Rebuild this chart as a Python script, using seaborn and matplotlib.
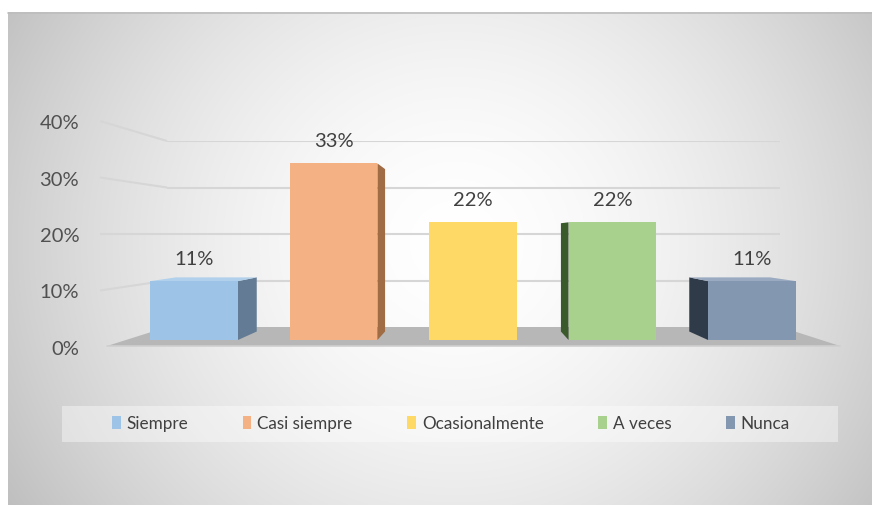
import numpy as np
import matplotlib
matplotlib.use("Agg")
import matplotlib.pyplot as plt
from matplotlib.patches import Polygon, Rectangle
import seaborn as sns

# ---- data ----
categories = ["Siempre", "Casi siempre", "Ocasionalmente", "A veces", "Nunca"]
values = [0.11, 0.33, 0.22, 0.22, 0.11]
tick_values = [0.0, 0.1, 0.2, 0.3, 0.4]
tick_labels = ["0%", "10%", "20%", "30%", "40%"]

# ---- styling ----
front_colors = ["#9dc3e6", "#f4b183", "#ffd966", "#a9d18e", "#8497b0"]
side_colors = ["#637b94", "#a06c45", "#c9a640", "#3a5a2b", "#303b4a"]
top_colors = ["#b0d0ec", "#f7c3a0", "#ffe38c", "#bfdea8", "#9aaac0"]

sns.set_theme(style="white")
plt.rcParams["font.family"] = ["Lato", "DejaVu Sans"]

W, H = 872, 506
fig = plt.figure(figsize=(W / 100, H / 100), dpi=100)
fig.patch.set_facecolor("white")


def frac(x0, y_top, w, h):
    """Axes rectangle from pixel box (origin top-left)."""
    return [x0 / W, (H - y_top - h) / H, w / W, h / H]


# ---- backdrop in pixel space ----
bg = fig.add_axes([0, 0, 1, 1], zorder=0)
fx0, fy0 = 8, 13
xs = np.arange(fx0, W) + 0.5
ys = np.arange(fy0, H) + 0.5
X, Y = np.meshgrid(xs, ys)
r = np.sqrt(((X - 455) / 432) ** 2 + ((Y - 245) / 410) ** 2)
shade = np.clip(255 - 46 * r ** 1.7, 190, 255) / 255
bg.imshow(np.dstack([shade] * 3), extent=(fx0, W, H, fy0),
          interpolation="bilinear", aspect="auto", zorder=0)
bg.plot([fx0, W], [fy0 + 0.5, fy0 + 0.5], color="#bdbdbd", lw=1.2, zorder=1)
bg.set_xlim(0, W)
bg.set_ylim(H, 0)
bg.axis("off")

# floor of the 3-D box
bg.add_patch(Polygon([(107, 347), (840, 347), (781, 328), (167, 328)],
                     closed=True, facecolor="#b7b7b7", edgecolor="none", zorder=2))
bg.plot([107, 840], [347, 347], color="#cfcfcf", lw=1.2, zorder=2)

# legend strip
bg.add_patch(Rectangle((62, 407), 776, 36, facecolor="white", alpha=0.4,
                       edgecolor="none", zorder=2))

# ---- back wall with gridlines ----
ax_wall = fig.add_axes(frac(167, 142, 613, 186), zorder=1)
ax_wall.patch.set_alpha(0)
ax_wall.set_ylim(0, 0.4)
ax_wall.set_xlim(0, 1)
ax_wall.set_yticks(tick_values[1:])
ax_wall.set_xticks([])
ax_wall.tick_params(left=False, labelleft=False)
ax_wall.grid(axis="y", color="#d6d6d6", lw=1.5)
sns.despine(ax=ax_wall, left=True, bottom=True)

# ---- value axis (labels on the side wall) ----
ax_val = fig.add_axes(frac(100, 122, 67, 226), zorder=1)
ax_val.patch.set_alpha(0)
ax_val.set_ylim(0, 0.4)
ax_val.set_yticks(tick_values)
ax_val.set_yticklabels(tick_labels)
ax_val.set_xticks([])
ax_val.tick_params(axis="y", length=0, pad=15, labelsize=14.5, labelcolor="#505050")
sns.despine(ax=ax_val, left=True, bottom=True)

inv_bg = bg.transData.inverted()


def to_px(ax, x, y):
    return inv_bg.transform(ax.transData.transform((x, y)))


# side-wall gridline segments joining each label to the back wall
for v in tick_values[1:]:
    _, yl = to_px(ax_val, 0, v)
    _, yb = to_px(ax_wall, 0, v)
    bg.plot([100, 167], [yl, yb], color="#d6d6d6", lw=1.5, zorder=1,
            solid_capstyle="butt")

# ---- bars ----
ax = fig.add_axes(frac(124.25, 127, 697.5, 214), zorder=2)
ax.patch.set_alpha(0)
sns.barplot(x=categories, y=values, hue=categories, palette=front_colors,
            saturation=1, width=0.63, linewidth=0, ax=ax, legend=True)
ax.set_xlim(-0.5, 4.5)
ax.set_ylim(0, 0.4)
ax.set_axis_off()

# perspective faces: back face is the front face shrunk toward a vanishing point
vpx, vpy, s = 473.0, 235.0, 0.92
inv_ax = ax.transData.inverted()
for bar in ax.patches:
    i = int(round(bar.get_x() + bar.get_width() / 2))
    x0, y0 = bar.get_x(), bar.get_y()
    x1, y1 = x0 + bar.get_width(), y0 + bar.get_height()
    (L, B) = to_px(ax, x0, y0)
    (R, T) = to_px(ax, x1, y1)

    def back(px, py):
        return vpx + s * (px - vpx), vpy + s * (py - vpy)

    def data(pts):
        return [inv_ax.transform(bg.transData.transform(p)) for p in pts]

    cxp = (L + R) / 2
    if cxp < vpx - 5:
        face = [(R, T), (R, B), back(R, B), back(R, T)]
        ax.add_patch(Polygon(data(face), closed=True, facecolor=side_colors[i],
                             edgecolor="none", zorder=0.5, clip_on=False))
    elif cxp > vpx + 5:
        face = [(L, T), (L, B), back(L, B), back(L, T)]
        ax.add_patch(Polygon(data(face), closed=True, facecolor=side_colors[i],
                             edgecolor="none", zorder=0.5, clip_on=False))
    if T > vpy:
        face = [(L, T), (R, T), back(R, T), back(L, T)]
        ax.add_patch(Polygon(data(face), closed=True, facecolor=top_colors[i],
                             edgecolor="none", zorder=0.5, clip_on=False))

for cont in ax.containers:
    ax.bar_label(cont, labels=[f"{b.get_height():.0%}" for b in cont],
                 padding=10.5, fontsize=14.5, color="#404040")

sns.move_legend(ax, "center", bbox_to_anchor=(451 / W, 1 - 424 / H),
                bbox_transform=fig.transFigure, ncol=5, frameon=False,
                title=None, fontsize=12.3, handlelength=0.5, handleheight=0.8,
                handletextpad=0.35, columnspacing=3.2, labelcolor="#404040")

fig.savefig("out.png", dpi=100, facecolor="white")
